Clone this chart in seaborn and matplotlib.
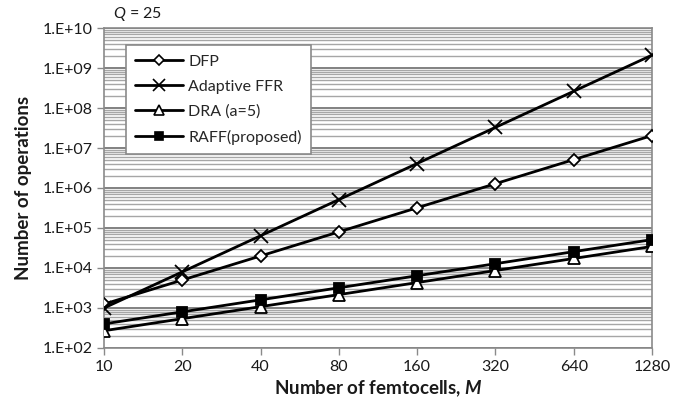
import matplotlib
matplotlib.use("Agg")
import matplotlib.pyplot as plt
from matplotlib.lines import Line2D
from matplotlib.ticker import FixedLocator, LogLocator, NullFormatter
import numpy as np
import pandas as pd
import seaborn as sns

# Number of femtocells on the x axis
femtocells = [10, 20, 40, 80, 160, 320, 640, 1280]

# Number of operations for each scheme
dfp = [1250, 5000, 20000, 80000, 320000, 1280000, 5120000, 20480000]
adaptive_ffr = [1000, 8000, 64000, 512000, 4096000, 32768000, 262144000, 2097152000]
dra = [270, 540, 1080, 2160, 4320, 8640, 17280, 34560]
raff = [400, 800, 1600, 3200, 6400, 12800, 25600, 51200]

series_names = ["DFP", "Adaptive FFR", "DRA (a=5)", "RAFF(proposed)"]
series_values = [dfp, adaptive_ffr, dra, raff]

y_tick_values = [1e2, 1e3, 1e4, 1e5, 1e6, 1e7, 1e8, 1e9, 1e10]
y_tick_labels = ["1.E+02", "1.E+03", "1.E+04", "1.E+05", "1.E+06",
                 "1.E+07", "1.E+08", "1.E+09", "1.E+10"]

frame = pd.DataFrame({
    "M": np.tile(femtocells, len(series_names)),
    "ops": np.concatenate(series_values),
    "scheme": np.repeat(series_names, len(femtocells)),
})

sns.set_theme(style="white")
plt.rcParams["font.family"] = ["Lato", "DejaVu Sans"]
plt.rcParams["mathtext.fontset"] = "custom"
plt.rcParams["mathtext.it"] = "Lato:italic"
plt.rcParams["mathtext.bfit"] = "Lato:italic:bold"
plt.rcParams["mathtext.rm"] = "Lato"

fig = plt.figure(figsize=(6.9, 4.03), dpi=100)
ax = fig.add_axes([0.1507, 0.1365, 0.7942, 0.794])

markers = {"DFP": "D", "Adaptive FFR": "x", "DRA (a=5)": "^", "RAFF(proposed)": "s"}
msizes = {"DFP": 6.5, "Adaptive FFR": 10, "DRA (a=5)": 9, "RAFF(proposed)": 7}
faces = {"DFP": "white", "Adaptive FFR": "black", "DRA (a=5)": "white", "RAFF(proposed)": "black"}

for name in series_names:
    sub = frame[frame["scheme"] == name]
    sns.lineplot(data=sub, x="M", y="ops", ax=ax, color="black", linewidth=2,
                 marker=markers[name], markersize=msizes[name],
                 markerfacecolor=faces[name], markeredgecolor="black",
                 markeredgewidth=1.3, legend=False, zorder=3)

ax.set_xscale("log", base=2)
ax.set_yscale("log")
ax.set_xlim(10, 1280)
ax.set_ylim(1e2, 1e10)

ax.xaxis.set_major_locator(FixedLocator(femtocells))
ax.xaxis.set_minor_locator(FixedLocator([]))
ax.set_xticklabels([str(v) for v in femtocells])
ax.yaxis.set_major_locator(FixedLocator(y_tick_values))
ax.set_yticklabels(y_tick_labels)
ax.yaxis.set_minor_locator(LogLocator(base=10, subs=np.arange(2, 10), numticks=50))
ax.yaxis.set_minor_formatter(NullFormatter())

ax.grid(axis="y", which="major", color="#777777", linewidth=1.3, zorder=0)
ax.grid(axis="y", which="minor", color="#a6a6a6", linewidth=1.0, zorder=0)
ax.grid(axis="x", which="both", visible=False)
ax.set_axisbelow(True)

for side in ["left", "bottom", "right", "top"]:
    ax.spines[side].set_color("#8a8a8a")
    ax.spines[side].set_linewidth(1.2)

ax.tick_params(axis="x", which="major", length=5, color="#8a8a8a", width=1,
               labelsize=11.5, pad=4, labelcolor="#1a1a1a", bottom=True)
ax.tick_params(axis="y", which="major", length=5, color="#8a8a8a", width=1,
               labelsize=11.5, pad=3, labelcolor="#1a1a1a", left=True)
ax.tick_params(axis="y", which="minor", length=0)

ax.set_xlabel(r"Number of femtocells, $\mathbfit{M}$", fontsize=13.5,
              fontweight="bold", labelpad=3, color="#1a1a1a")
ax.set_ylabel("Number of operations", fontsize=13.5, fontweight="bold",
              labelpad=8, color="#1a1a1a")

fig.text(113 / 690, 1 - 14 / 403, r"$Q$ = 25", fontsize=11.5, va="center",
         ha="left", color="#1a1a1a")

handles = [Line2D([0], [0], color="black", linewidth=2, marker=markers[n],
                  markersize=msizes[n] * 0.8, markerfacecolor=faces[n],
                  markeredgecolor="black", markeredgewidth=1.2)
           for n in series_names]
leg = ax.legend(handles, series_names, loc="upper left",
                bbox_to_anchor=(0.040, 0.947), borderaxespad=0, fontsize=11.5,
                frameon=True, fancybox=False, framealpha=1, edgecolor="#8a8a8a",
                handlelength=3.0, handletextpad=0.3, labelspacing=0.68,
                borderpad=0.6)
leg.get_frame().set_linewidth(1.2)
leg.set_zorder(5)

fig.savefig("out.png", dpi=100)
